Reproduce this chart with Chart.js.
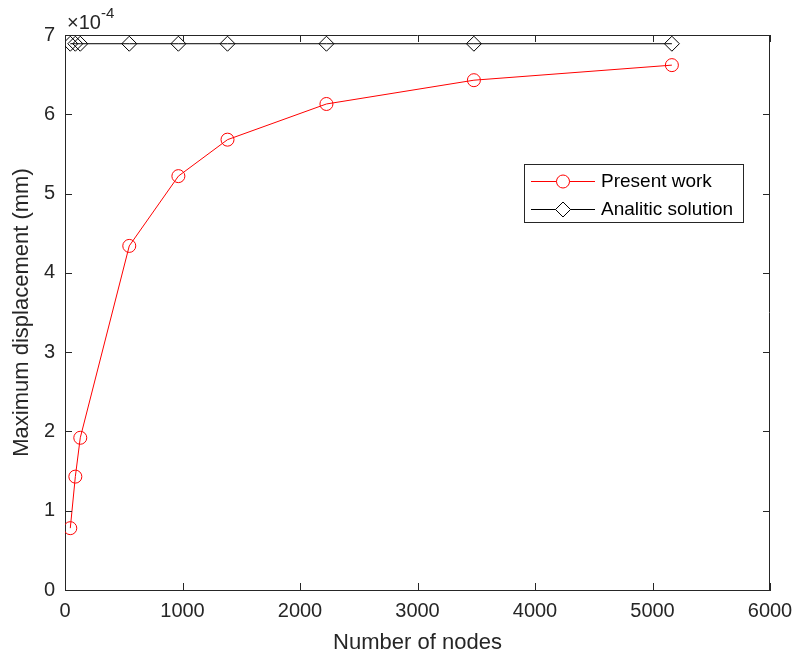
<!DOCTYPE html>
<html>
<head>
<meta charset="utf-8">
<script src="https://cdn.jsdelivr.net/npm/chart.js@4/dist/chart.umd.min.js"></script>
<style>
  html, body { margin: 0; padding: 0; background: #fff; }
  #wrap { width: 795px; height: 661px; }
</style>
</head>
<body>
<div id="wrap"><canvas id="myChart" width="795" height="661"></canvas></div>
<script>
// Werte (y in Einheiten von 1e-4 mm)
var nodes = [45, 88, 130, 547, 965, 1383, 2225, 3480, 5165];
var presentWork = [0.78, 1.43, 1.92, 4.34, 5.22, 5.68, 6.13, 6.43, 6.62];
var analytic = [6.89, 6.89, 6.89, 6.89, 6.89, 6.89, 6.89, 6.89, 6.89];
var xTicks = [0, 1000, 2000, 3000, 4000, 5000, 6000];
var yTicks = [0, 1, 2, 3, 4, 5, 6, 7];
var seriesNames = ['Present work', 'Analitic solution'];
var yExponent = '-4';

var axisColor = '#262626';
var font = 'Helvetica, "Liberation Sans", Arial, sans-serif';

function toPoints(xs, ys) {
    return xs.map(function(x, i) { return { x: x, y: ys[i] }; });
}

// MATLAB-Rahmen: Box, Ticks nach innen, Exponent, Legende
var matlabBox = {
    id: 'matlabBox',
    afterDraw: function(chart) {
        var ctx = chart.ctx;
        var a = chart.chartArea;
        var xs = chart.scales.x, ys = chart.scales.y;
        var tl = 7;
        ctx.save();
        ctx.strokeStyle = axisColor;
        ctx.lineWidth = 1;
        ctx.beginPath();
        ctx.moveTo(a.left, a.top + 0.5); ctx.lineTo(a.right, a.top + 0.5);
        ctx.moveTo(a.right - 0.5, a.top); ctx.lineTo(a.right - 0.5, a.bottom);
        xTicks.forEach(function(v) {
            var px = Math.round(xs.getPixelForValue(v)) + 0.5;
            ctx.moveTo(px, a.bottom); ctx.lineTo(px, a.bottom - tl);
            ctx.moveTo(px, a.top); ctx.lineTo(px, a.top + tl);
        });
        yTicks.forEach(function(v) {
            var py = Math.round(ys.getPixelForValue(v)) + 0.5;
            ctx.moveTo(a.left, py); ctx.lineTo(a.left + tl, py);
            ctx.moveTo(a.right, py); ctx.lineTo(a.right - tl, py);
        });
        ctx.stroke();

        // Exponent ueber der y-Achse
        ctx.fillStyle = axisColor;
        ctx.textBaseline = 'alphabetic';
        ctx.textAlign = 'left';
        ctx.font = '20px ' + font;
        ctx.fillText('\u00d710', a.left + 2, 29);
        var w = ctx.measureText('\u00d710').width;
        ctx.font = '15px ' + font;
        ctx.fillText(yExponent, a.left + 2 + w, 18);

        // Legende
        var lx = 524, ly = 164, lw = 219, lh = 58;
        ctx.fillStyle = '#ffffff';
        ctx.fillRect(lx, ly, lw, lh);
        ctx.strokeStyle = axisColor;
        ctx.strokeRect(lx + 0.5, ly + 0.5, lw, lh);
        chart.data.datasets.forEach(function(ds, i) {
            var ry = ly + 17 + i * 28;
            ctx.strokeStyle = ds.borderColor;
            ctx.lineWidth = 1;
            ctx.beginPath();
            ctx.moveTo(lx + 7, ry + 0.5); ctx.lineTo(lx + 71, ry + 0.5);
            ctx.stroke();
            ctx.fillStyle = '#ffffff';
            Chart.helpers.drawPoint(ctx, {
                pointStyle: ds.pointStyle, radius: ds.pointRadius, borderWidth: 1
            }, lx + 39, ry + 0.5);
            ctx.fillStyle = '#000';
            ctx.font = '19px ' + font;
            ctx.textBaseline = 'middle';
            ctx.fillText(seriesNames[i], lx + 77, ry + 1);
        });
        ctx.restore();
    }
};

var ctx = document.getElementById('myChart').getContext('2d');
var myChart = new Chart(ctx, {
    type: 'line',
    data: {
        datasets: [{
            label: seriesNames[0],
            data: toPoints(nodes, presentWork),
            borderColor: '#ff0000',
            backgroundColor: 'rgba(0,0,0,0)',
            borderWidth: 1,
            pointStyle: 'circle',
            pointRadius: 6.5,
            pointBorderWidth: 1,
            pointBackgroundColor: 'rgba(0,0,0,0)',
            tension: 0
        }, {
            label: seriesNames[1],
            data: toPoints(nodes, analytic),
            borderColor: '#000000',
            backgroundColor: 'rgba(0,0,0,0)',
            borderWidth: 1,
            pointStyle: 'rectRot',
            pointRadius: 7.5,
            pointBorderWidth: 1,
            pointBackgroundColor: 'rgba(0,0,0,0)',
            tension: 0
        }]
    },
    options: {
        responsive: false,
        animation: false,
        layout: { padding: { top: 35, right: 25, left: 0, bottom: 0 } },
        plugins: {
            legend: { display: false },
            tooltip: { enabled: false }
        },
        scales: {
            x: {
                type: 'linear',
                min: 0, max: 6000,
                afterFit: function(s) { s.height = 71; s.paddingLeft = 0; s.paddingRight = 0; },
                afterBuildTicks: function(s) { s.ticks = xTicks.map(function(v) { return { value: v }; }); },
                grid: { drawOnChartArea: false, drawTicks: false },
                border: { color: axisColor, width: 1 },
                ticks: {
                    color: axisColor, padding: 9, maxRotation: 0,
                    font: { size: 20, family: font },
                    callback: function(v) { return String(v); }
                },
                title: { display: true, text: 'Number of nodes', color: axisColor, padding: { top: 2, bottom: 5 }, font: { size: 22, family: font } }
            },
            y: {
                min: 0, max: 7,
                afterFit: function(s) { s.width = 65; s.paddingTop = 0; s.paddingBottom = 0; },
                afterBuildTicks: function(s) { s.ticks = yTicks.map(function(v) { return { value: v }; }); },
                grid: { drawOnChartArea: false, drawTicks: false },
                border: { color: axisColor, width: 1 },
                ticks: { color: axisColor, padding: 10, font: { size: 20, family: font } },
                title: { display: true, text: 'Maximum displacement (mm)', color: axisColor, padding: { top: 9, bottom: 0 }, font: { size: 22, family: font } }
            }
        }
    },
    plugins: [matlabBox]
});
</script>
</body>
</html>
